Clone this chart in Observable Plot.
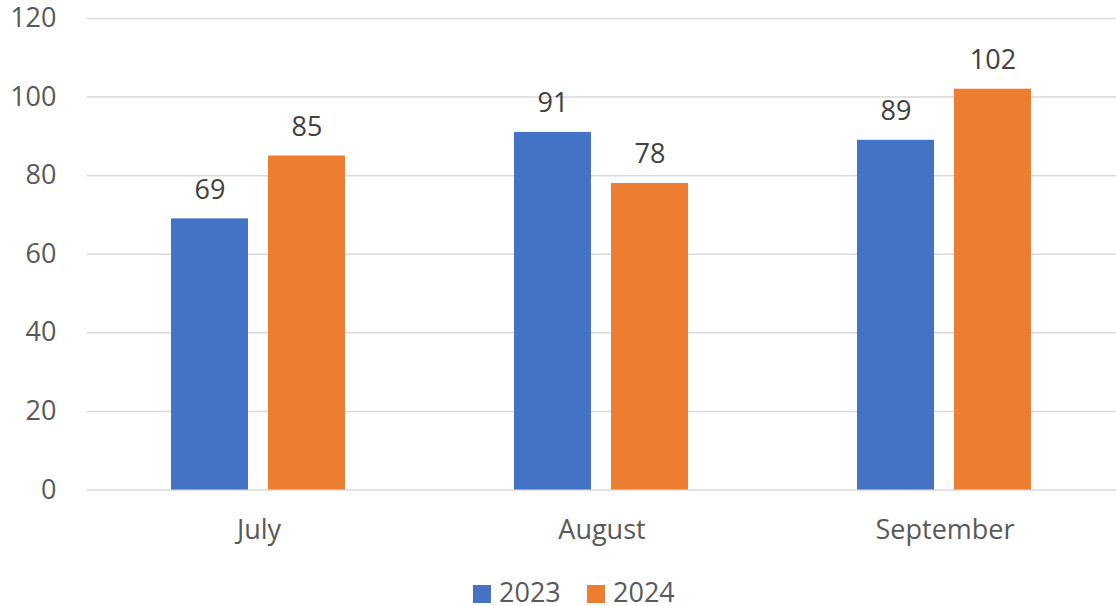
<!DOCTYPE html>
<html>
<head>
<meta charset="utf-8">
<script src="https://cdn.jsdelivr.net/npm/d3@7"></script>
<script src="https://cdn.jsdelivr.net/npm/@observablehq/plot@0.6"></script>
<style>
  html, body { margin: 0; padding: 0; background: white; }
  #wrap { position: relative; width: 1116px; height: 606px; font-family: "Open Sans", sans-serif; overflow: hidden; }
  #legend { position: absolute; left: 0; top: 566px; width: 1116px; height: 40px; }
  .sw { position: absolute; width: 18px; height: 18px; top: 19px; }
  .lt { position: absolute; top: 13px; font-size: 27px; line-height: 26px; color: #595959; }
</style>
</head>
<body>
<div id="wrap">
  <div id="chart"></div>
  <div id="legend"></div>
</div>
<script>
const months = ["July", "August", "September"];
const years = ["2023", "2024"];
const values2023 = [69, 91, 89];
const values2024 = [85, 78, 102];
const yTicks = [0, 20, 40, 60, 80, 100, 120];
const colors = ["#4472C4", "#ED7D31"];

const data = months.flatMap((m, i) => [
  {month: m, year: years[0], value: values2023[i]},
  {month: m, year: years[1], value: values2024[i]}
]);

const chart = Plot.plot({
  width: 1116,
  height: 566,
  marginLeft: 86,
  marginRight: 0,
  marginTop: 18,
  marginBottom: 76.5,
  style: {fontFamily: "Open Sans, sans-serif", fontSize: "27px", color: "#595959", background: "white"},
  fx: {domain: months, padding: 0, label: null, axis: null},
  x: {domain: years, paddingInner: 0.204, paddingOuter: 0.854, axis: null},
  y: {domain: [0, 120], axis: null},
  color: {domain: years, range: colors},
  marks: [
    Plot.ruleY(yTicks, {stroke: "#D9D9D9", strokeWidth: 1.5}),
    Plot.barY(data, {fx: "month", x: "year", y: "value", fill: "year"}),
    Plot.text(data, {fx: "month", x: "year", y: "value", text: d => String(d.value), dy: -29, fill: "#404040", fontSize: 27}),
    Plot.axisFx({anchor: "bottom", tickSize: 0, tickPadding: 30, fontSize: 27, fill: "#595959", label: null}),
    Plot.axisY({ticks: yTicks, tickSize: 0, tickPadding: 31, fontSize: 27, fill: "#595959", label: null})
  ]
});
document.getElementById("chart").appendChild(chart);

const legend = document.getElementById("legend");
const legendX = [473, 587];
years.forEach((y, i) => {
  const sw = document.createElement("div");
  sw.className = "sw";
  sw.style.left = legendX[i] + "px";
  sw.style.background = colors[i];
  legend.appendChild(sw);
  const t = document.createElement("div");
  t.className = "lt";
  t.style.left = (legendX[i] + 26) + "px";
  t.textContent = y;
  legend.appendChild(t);
});
</script>
</body>
</html>
